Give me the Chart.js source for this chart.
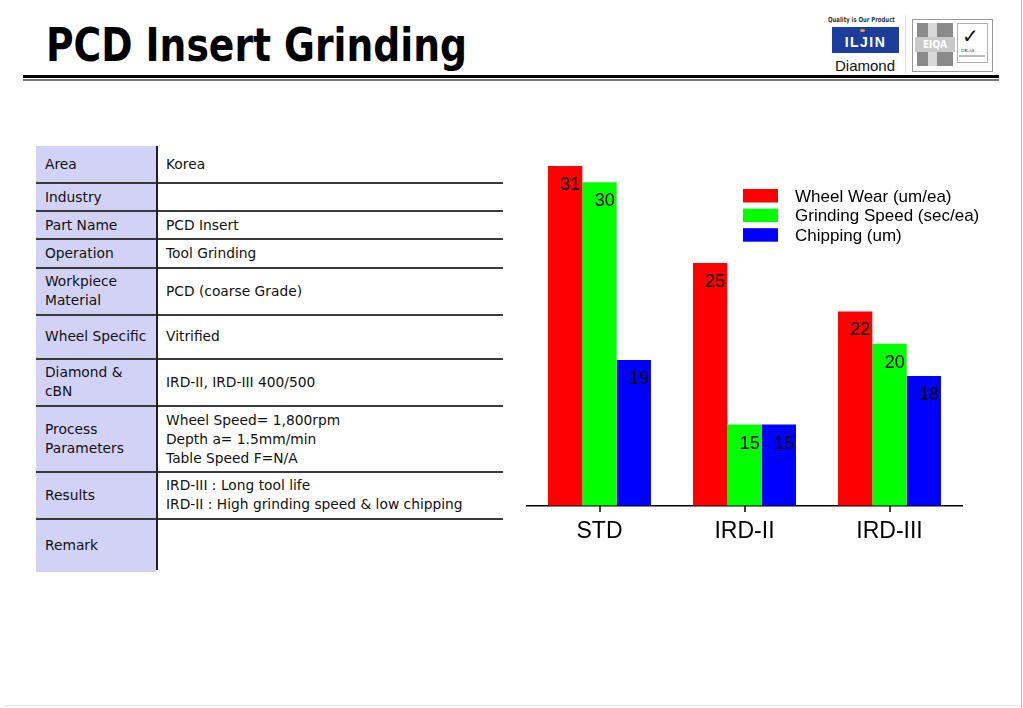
<!DOCTYPE html>
<html>
<head>
<meta charset="utf-8">
<script src="https://cdn.jsdelivr.net/npm/chart.js@4.4.3/dist/chart.umd.min.js"></script>
<style>
  html, body { margin: 0; padding: 0; background: #fff; }
  body { width: 1023px; height: 708px; position: relative; overflow: hidden; }
  .abs { position: absolute; }
  #title {
    left: 46px; top: 18px; font: bold 46px "DejaVu Sans Condensed", "DejaVu Sans", sans-serif;
    color: #000; white-space: nowrap; transform: scaleX(0.91); transform-origin: 0 0;
  }
  #rule1 { left: 23px; top: 75px; width: 976px; height: 3px; background: #000; }
  #rule2 { left: 23px; top: 79px; width: 976px; height: 2px; background: #7a7a7a; }
  #edgeR { left: 1021px; top: 0; width: 1px; height: 708px; background: #b8b8b8; }
  #edgeB { left: 4px; top: 705px; width: 1017px; height: 1px; background: #e4e4e4; }

  .tbl { font: 13.8px "DejaVu Sans", sans-serif; color: #111; }
  .cellL { background: #d2d2f6; left: 36px; width: 120px; display: flex; align-items: center;
           box-sizing: border-box; padding-left: 9px; line-height: 19px; }
  .cellR { left: 157px; width: 346px; display: flex; align-items: center;
           box-sizing: border-box; padding-left: 9px; line-height: 19px; }
  .hline { left: 36px; width: 467px; height: 2px; background: #3a3a3a; }
  #vline { left: 156px; top: 146px; width: 1.5px; height: 424px; background: #222; }

  #chartBox { left: 505px; top: 140px; width: 510px; height: 420px; }
</style>
</head>
<body>
<div id="title" class="abs">PCD Insert Grinding</div>
<div id="rule1" class="abs"></div>
<div id="rule2" class="abs"></div>
<div id="edgeR" class="abs"></div>
<div id="edgeB" class="abs"></div>

<!-- logos -->
<div class="abs" style="left:828px;top:16px;font:bold 7px 'DejaVu Sans Condensed',sans-serif;color:#333;white-space:nowrap;transform:scaleX(0.85);transform-origin:0 0;">Quality is Our Product</div>
<div class="abs" style="left:832px;top:27px;width:67px;height:26px;background:#1d3d9c;color:#fff;font:bold 14px 'Liberation Sans',sans-serif;letter-spacing:1.5px;text-align:center;line-height:30px;">ILJIN</div>
<div class="abs" style="left:860px;top:29px;width:5px;height:3px;border-radius:50%;background:#e9a23b;"></div>
<div class="abs" style="left:835px;top:57px;font:15px 'Liberation Sans',sans-serif;color:#111;">Diamond</div>
<div class="abs" style="left:905px;top:15px;width:1px;height:58px;background:#dcdcdc;"></div>
<div class="abs" style="left:912px;top:19px;width:79px;height:51px;border:1px solid #9a9a9a;"></div>
<div class="abs" style="left:917px;top:23px;width:36px;height:43px;background:#8a8a8a;"></div>
<div class="abs" style="left:928px;top:23px;width:9px;height:14px;background:#d8d8d8;"></div>
<div class="abs" style="left:928px;top:52px;width:9px;height:14px;background:#d8d8d8;"></div>
<div class="abs" style="left:915px;top:37px;width:40px;height:15px;background:#c9c9c9;color:#fff;font:bold 10px 'DejaVu Sans Condensed',sans-serif;text-align:center;line-height:15px;">EIQA</div>
<div class="abs" style="left:957px;top:23px;width:29px;height:38px;border:1px solid #b0b0b0;"></div>
<div class="abs" style="left:962px;top:26px;font:bold 20px 'DejaVu Sans',sans-serif;color:#111;line-height:20px;">✓</div>
<div class="abs" style="left:961px;top:48px;font:5px 'Liberation Serif',serif;color:#222;">UKAS</div>
<div class="abs" style="left:959px;top:55px;width:26px;height:2px;background:#bbb;"></div>

<div id="table"></div>
<div id="vline" class="abs"></div>

<div id="chartBox" class="abs"><canvas id="chart"></canvas></div>

<script>
// ── Data ────────────────────────────────────────────────────────────────────
const categories = ['STD', 'IRD-II', 'IRD-III'];
const wheelWear = [31, 25, 22];
const grindingSpeed = [30, 15, 20];
const chipping = [19, 15, 18];
const seriesNames = ['Wheel Wear (um/ea)', 'Grinding Speed (sec/ea)', 'Chipping (um)'];
const seriesColors = ['#ff0000', '#00ff00', '#0000ff'];

const tableLabels = ['Area', 'Industry', 'Part Name', 'Operation', 'Workpiece<br>Material',
  'Wheel Specific', 'Diamond &amp;<br>cBN', 'Process<br>Parameters', 'Results', 'Remark'];
const tableValues = ['Korea', '', 'PCD Insert', 'Tool Grinding', 'PCD (coarse Grade)', 'Vitrified',
  'IRD-II, IRD-III 400/500',
  'Wheel Speed= 1,800rpm<br>Depth a= 1.5mm/min<br>Table Speed F=N/A',
  'IRD-III : Long tool life<br>IRD-II : High grinding speed &amp; low chipping', ''];

// ── Info table (row edges in px) ─────────────────────────────────────────────
const rowEdges = [146, 182, 210, 238, 266.5, 314, 357.5, 405, 471, 517.5, 572];
(function buildTable() {
  const host = document.getElementById('table');
  let html = '';
  tableLabels.forEach((lab, i) => {
    const top = i === 0 ? rowEdges[0] : rowEdges[i] + 2;
    const h = rowEdges[i + 1] - top;
    html += `<div class="abs tbl cellL" style="top:${top}px;height:${h}px">${lab}</div>`;
    html += `<div class="abs tbl cellR" style="top:${top}px;height:${h}px">${tableValues[i]}</div>`;
    if (i < tableLabels.length - 1) {
      html += `<div class="abs hline" style="top:${rowEdges[i + 1]}px"></div>`;
    }
  });
  host.innerHTML = html;
})();

// ── Plugins ─────────────────────────────────────────────────────────────────
const valueLabels = {
  id: 'valueLabels',
  afterDatasetsDraw(chart) {
    const ctx = chart.ctx;
    ctx.save();
    ctx.font = '18px "Liberation Sans", Arial, sans-serif';
    ctx.fillStyle = '#000';
    ctx.textAlign = 'right';
    ctx.textBaseline = 'middle';
    chart.data.datasets.forEach((ds, di) => {
      chart.getDatasetMeta(di).data.forEach((bar, i) => {
        ctx.fillText(String(ds.data[i]), bar.x + bar.width / 2 - 2, bar.y + 19);
      });
    });
    ctx.restore();
  }
};

// short tick under each category centre
const centreTicks = {
  id: 'centreTicks',
  afterDraw(chart) {
    const ctx = chart.ctx;
    const xs = chart.scales.x;
    const y0 = Math.round(chart.chartArea.bottom);
    ctx.save();
    ctx.fillStyle = '#000';
    xs.ticks.forEach((t, i) => {
      const x = Math.round(xs.getPixelForTick(i));
      ctx.fillRect(x - 0.75, y0, 1.5, 7);
    });
    ctx.restore();
  }
};

const boxLegend = {
  id: 'boxLegend',
  afterDraw(chart) {
    const ctx = chart.ctx;
    const a = chart.chartArea;
    const x0 = a.left + 216, y0 = a.top + 23;
    ctx.save();
    ctx.font = '17px "Liberation Sans", Arial, sans-serif';
    ctx.textAlign = 'left';
    ctx.textBaseline = 'middle';
    chart.data.datasets.forEach((ds, i) => {
      const y = y0 + i * 19.6;
      ctx.fillStyle = ds.backgroundColor;
      ctx.fillRect(x0, y, 35, 13.5);
      ctx.fillStyle = '#000';
      ctx.fillText(ds.label, x0 + 52, y + 8);
    });
    ctx.restore();
  }
};

// ── Chart ───────────────────────────────────────────────────────────────────
const seriesData = [wheelWear, grindingSpeed, chipping];

new Chart(document.getElementById('chart'), {
  type: 'bar',
  data: {
    labels: categories,
    datasets: seriesData.map((d, i) => ({
      label: seriesNames[i],
      data: d,
      backgroundColor: seriesColors[i],
      borderWidth: 0,
      barPercentage: 1,
      categoryPercentage: 0.71,
    })),
  },
  options: {
    responsive: true,
    maintainAspectRatio: false,
    animation: false,
    layout: { padding: { left: 22, right: 53, top: 26, bottom: 11 } },
    plugins: { legend: { display: false }, tooltip: { enabled: false } },
    scales: {
      x: {
        border: { display: true, color: '#000', width: 1.5 },
        grid: { display: true, drawOnChartArea: false, drawTicks: true, tickLength: 8,
                color: 'rgba(0,0,0,0)', lineWidth: 1, offset: false },
        ticks: { color: '#000', padding: 4, font: { size: 23, family: '"Liberation Sans", Arial, sans-serif' } },
      },
      y: { display: false, min: 10, max: 31 },
    },
  },
  plugins: [valueLabels, centreTicks, boxLegend],
});
</script>
</body>
</html>
